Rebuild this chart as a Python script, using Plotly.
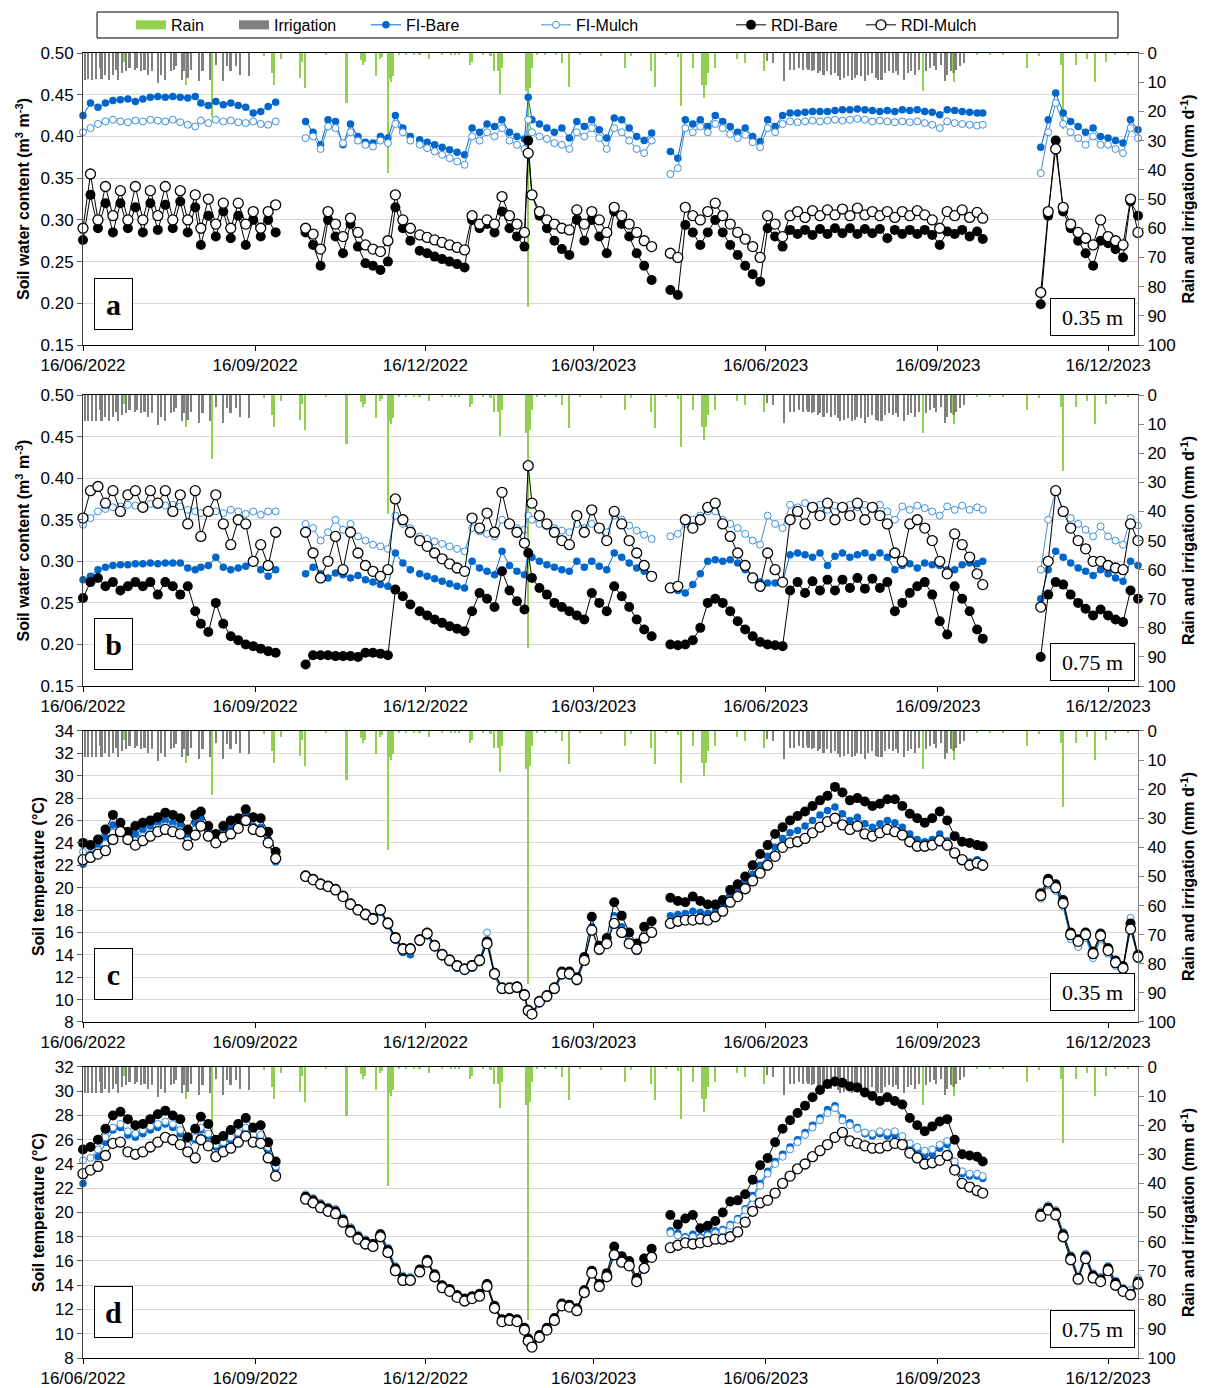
import pandas as pd
import plotly.graph_objects as go
from plotly.subplots import make_subplots

START = "2022-06-16"
X_END = "2024-01-01"
TICK_DATES = ["2022-06-16", "2022-09-16", "2022-12-16", "2023-03-16",
              "2023-06-16", "2023-09-16", "2023-12-16"]
TICK_LABELS = ["16/06/2022", "16/09/2022", "16/12/2022", "16/03/2023",
               "16/06/2023", "16/09/2023", "16/12/2023"]

# measurement days (days after 16/06/2022)
DAYS = ([0, 4, 8, 12, 16, 20, 24, 28, 32, 36, 40, 44, 48, 52, 56, 60, 63, 67, 71, 75, 79, 83, 87, 91, 95, 99, 103]
        + [119, 123, 127, 131, 135, 139, 143, 147, 151, 155, 159, 163, 167, 171, 175]
        + [180, 184, 188, 192, 196, 200, 204, 208, 212, 216, 220, 224, 228, 232, 236, 238, 240, 244, 248, 252,
           256, 260, 264, 268, 272, 276, 280, 284, 288, 292, 296, 300, 304]
        + [314, 318, 322, 326, 330, 334, 338, 342, 346, 350, 354, 358, 362, 366, 370, 374, 378, 382, 386, 390,
           394, 398, 402, 406, 410, 414, 418, 422, 426, 430, 434, 438, 442, 446, 450, 454, 458, 462, 466, 470,
           474, 478, 481]
        + [512, 516, 520, 524, 528, 532, 536, 540, 544, 548, 552, 556, 560, 564])

# ---------------- panel a: soil water content 0.35 m ----------------
A_FI_BARE = ([0.425, 0.440, 0.435, 0.440, 0.443, 0.444, 0.445, 0.442, 0.445, 0.447, 0.448, 0.447, 0.448, 0.447, 0.446, 0.448, 0.440, 0.437, 0.442, 0.438, 0.440, 0.437, 0.435, 0.428, 0.430, 0.436, 0.441]
             + [0.418, 0.405, 0.390, 0.420, 0.418, 0.390, 0.415, 0.400, 0.393, 0.392, 0.400, 0.398, 0.425, 0.410, 0.400]
             + [0.396, 0.393, 0.390, 0.387, 0.384, 0.381, 0.378, 0.410, 0.405, 0.415, 0.412, 0.420, 0.405, 0.400, 0.397, 0.447, 0.420, 0.415, 0.410, 0.405, 0.410, 0.398, 0.418, 0.412, 0.420, 0.408, 0.398, 0.422, 0.420, 0.410, 0.400, 0.395, 0.404]
             + [0.382, 0.374, 0.420, 0.415, 0.420, 0.412, 0.425, 0.418, 0.412, 0.405, 0.410, 0.400, 0.394, 0.420, 0.412, 0.425, 0.428, 0.428, 0.429, 0.430, 0.430, 0.430, 0.431, 0.432, 0.432, 0.433, 0.432, 0.431, 0.430, 0.431, 0.430, 0.432, 0.431, 0.432, 0.430, 0.429, 0.426, 0.432, 0.431, 0.430, 0.429, 0.428, 0.428]
             + [0.387, 0.420, 0.452, 0.428, 0.418, 0.412, 0.405, 0.410, 0.400, 0.398, 0.395, 0.392, 0.420, 0.408])
A_FI_MULCH = ([0.405, 0.410, 0.415, 0.418, 0.420, 0.418, 0.417, 0.419, 0.418, 0.420, 0.419, 0.418, 0.420, 0.417, 0.414, 0.412, 0.419, 0.416, 0.420, 0.418, 0.419, 0.417, 0.416, 0.418, 0.415, 0.414, 0.418]
              + [0.398, 0.400, 0.385, 0.412, 0.410, 0.392, 0.405, 0.395, 0.390, 0.388, 0.395, 0.392, 0.415, 0.405, 0.395]
              + [0.390, 0.386, 0.382, 0.378, 0.374, 0.370, 0.366, 0.400, 0.395, 0.405, 0.400, 0.410, 0.395, 0.390, 0.385, 0.420, 0.405, 0.400, 0.397, 0.392, 0.390, 0.385, 0.405, 0.400, 0.410, 0.398, 0.385, 0.410, 0.405, 0.395, 0.385, 0.380, 0.395]
              + [0.355, 0.362, 0.410, 0.405, 0.412, 0.405, 0.415, 0.410, 0.403, 0.398, 0.402, 0.393, 0.387, 0.410, 0.405, 0.415, 0.418, 0.417, 0.418, 0.419, 0.418, 0.419, 0.420, 0.419, 0.420, 0.421, 0.420, 0.418, 0.419, 0.418, 0.417, 0.418, 0.417, 0.418, 0.416, 0.414, 0.410, 0.418, 0.416, 0.415, 0.414, 0.413, 0.414]
              + [0.356, 0.405, 0.440, 0.415, 0.405, 0.398, 0.390, 0.400, 0.390, 0.390, 0.385, 0.380, 0.410, 0.398])
A_RDI_BARE = ([0.276, 0.330, 0.290, 0.320, 0.285, 0.320, 0.290, 0.315, 0.285, 0.320, 0.288, 0.318, 0.290, 0.322, 0.285, 0.315, 0.270, 0.305, 0.280, 0.310, 0.278, 0.305, 0.270, 0.300, 0.280, 0.300, 0.285]
              + [0.285, 0.270, 0.245, 0.300, 0.280, 0.260, 0.295, 0.268, 0.248, 0.245, 0.240, 0.250, 0.315, 0.290, 0.275]
              + [0.263, 0.260, 0.256, 0.253, 0.250, 0.247, 0.243, 0.300, 0.290, 0.295, 0.285, 0.310, 0.290, 0.280, 0.268, 0.395, 0.330, 0.305, 0.290, 0.275, 0.265, 0.258, 0.300, 0.275, 0.300, 0.280, 0.260, 0.310, 0.295, 0.280, 0.260, 0.245, 0.228]
              + [0.216, 0.210, 0.294, 0.285, 0.270, 0.285, 0.300, 0.285, 0.270, 0.258, 0.245, 0.235, 0.226, 0.290, 0.280, 0.268, 0.288, 0.283, 0.288, 0.282, 0.289, 0.283, 0.290, 0.284, 0.290, 0.283, 0.289, 0.284, 0.289, 0.278, 0.288, 0.283, 0.288, 0.283, 0.288, 0.282, 0.270, 0.286, 0.283, 0.288, 0.280, 0.286, 0.277]
              + [0.199, 0.305, 0.395, 0.310, 0.290, 0.275, 0.260, 0.245, 0.275, 0.272, 0.265, 0.255, 0.322, 0.305])
A_RDI_MULCH = ([0.290, 0.355, 0.300, 0.340, 0.305, 0.335, 0.300, 0.340, 0.300, 0.335, 0.305, 0.340, 0.300, 0.335, 0.300, 0.330, 0.290, 0.325, 0.295, 0.320, 0.290, 0.320, 0.295, 0.310, 0.290, 0.310, 0.318]
               + [0.290, 0.283, 0.265, 0.310, 0.295, 0.280, 0.302, 0.285, 0.270, 0.265, 0.262, 0.275, 0.330, 0.300, 0.290]
               + [0.282, 0.279, 0.276, 0.273, 0.270, 0.267, 0.264, 0.305, 0.295, 0.300, 0.295, 0.328, 0.305, 0.295, 0.285, 0.380, 0.330, 0.310, 0.300, 0.295, 0.290, 0.288, 0.312, 0.295, 0.310, 0.300, 0.285, 0.315, 0.305, 0.295, 0.285, 0.275, 0.268]
               + [0.260, 0.255, 0.315, 0.305, 0.300, 0.310, 0.320, 0.305, 0.295, 0.285, 0.277, 0.268, 0.255, 0.305, 0.295, 0.280, 0.305, 0.310, 0.303, 0.311, 0.305, 0.312, 0.306, 0.313, 0.305, 0.314, 0.306, 0.310, 0.305, 0.310, 0.303, 0.310, 0.305, 0.311, 0.306, 0.300, 0.290, 0.310, 0.305, 0.312, 0.303, 0.309, 0.302]
               + [0.213, 0.310, 0.385, 0.315, 0.295, 0.285, 0.278, 0.270, 0.300, 0.280, 0.275, 0.270, 0.325, 0.285])

# ---------------- panel b: soil water content 0.75 m ----------------
B_FI_BARE = ([0.278, 0.282, 0.290, 0.293, 0.295, 0.296, 0.296, 0.297, 0.297, 0.298, 0.297, 0.298, 0.298, 0.298, 0.292, 0.290, 0.293, 0.295, 0.305, 0.293, 0.290, 0.292, 0.294, 0.298, 0.290, 0.282, 0.290]
             + [0.285, 0.293, 0.285, 0.280, 0.286, 0.284, 0.280, 0.283, 0.278, 0.275, 0.272, 0.270, 0.310, 0.298, 0.290]
             + [0.285, 0.282, 0.279, 0.276, 0.273, 0.270, 0.268, 0.300, 0.292, 0.288, 0.284, 0.312, 0.295, 0.288, 0.284, 0.310, 0.305, 0.300, 0.296, 0.293, 0.290, 0.288, 0.300, 0.293, 0.300, 0.294, 0.290, 0.310, 0.305, 0.298, 0.292, 0.288, 0.283]
             + [0.270, 0.265, 0.262, 0.272, 0.285, 0.300, 0.302, 0.300, 0.302, 0.298, 0.290, 0.282, 0.275, 0.274, 0.274, 0.275, 0.308, 0.310, 0.308, 0.305, 0.310, 0.295, 0.306, 0.310, 0.305, 0.308, 0.310, 0.305, 0.310, 0.305, 0.290, 0.295, 0.297, 0.292, 0.298, 0.296, 0.295, 0.290, 0.290, 0.296, 0.298, 0.297, 0.300]
             + [0.255, 0.290, 0.312, 0.305, 0.298, 0.292, 0.288, 0.283, 0.290, 0.285, 0.280, 0.276, 0.300, 0.295])
B_FI_MULCH = ([0.344, 0.352, 0.360, 0.363, 0.365, 0.366, 0.368, 0.367, 0.368, 0.369, 0.368, 0.367, 0.368, 0.366, 0.362, 0.360, 0.358, 0.362, 0.360, 0.358, 0.362, 0.360, 0.357, 0.360, 0.356, 0.360, 0.360]
              + [0.345, 0.340, 0.325, 0.335, 0.350, 0.338, 0.345, 0.330, 0.325, 0.320, 0.318, 0.315, 0.355, 0.345, 0.340]
              + [0.330, 0.327, 0.324, 0.321, 0.318, 0.315, 0.312, 0.340, 0.336, 0.333, 0.330, 0.350, 0.345, 0.340, 0.338, 0.355, 0.350, 0.345, 0.342, 0.340, 0.337, 0.335, 0.345, 0.340, 0.345, 0.340, 0.335, 0.355, 0.350, 0.343, 0.337, 0.332, 0.327]
              + [0.330, 0.333, 0.345, 0.350, 0.355, 0.360, 0.360, 0.350, 0.345, 0.340, 0.333, 0.325, 0.320, 0.355, 0.345, 0.340, 0.368, 0.365, 0.370, 0.365, 0.368, 0.362, 0.367, 0.364, 0.368, 0.365, 0.368, 0.365, 0.368, 0.360, 0.350, 0.366, 0.362, 0.367, 0.364, 0.360, 0.355, 0.366, 0.362, 0.367, 0.362, 0.365, 0.362]
              + [0.290, 0.350, 0.385, 0.362, 0.352, 0.345, 0.338, 0.330, 0.342, 0.330, 0.325, 0.320, 0.352, 0.343])
B_RDI_BARE = ([0.256, 0.275, 0.280, 0.270, 0.275, 0.265, 0.270, 0.275, 0.270, 0.275, 0.260, 0.275, 0.270, 0.260, 0.270, 0.240, 0.225, 0.215, 0.250, 0.225, 0.210, 0.205, 0.200, 0.198, 0.195, 0.192, 0.190]
              + [0.176, 0.187, 0.187, 0.187, 0.186, 0.186, 0.186, 0.185, 0.190, 0.190, 0.189, 0.187, 0.266, 0.258, 0.248]
              + [0.240, 0.235, 0.230, 0.226, 0.222, 0.219, 0.216, 0.240, 0.262, 0.255, 0.245, 0.288, 0.265, 0.252, 0.242, 0.310, 0.280, 0.268, 0.260, 0.250, 0.245, 0.240, 0.235, 0.230, 0.262, 0.250, 0.240, 0.270, 0.258, 0.245, 0.230, 0.218, 0.210]
              + [0.200, 0.199, 0.200, 0.205, 0.220, 0.250, 0.255, 0.250, 0.240, 0.228, 0.218, 0.210, 0.203, 0.200, 0.199, 0.198, 0.265, 0.275, 0.262, 0.276, 0.265, 0.278, 0.265, 0.278, 0.268, 0.280, 0.267, 0.279, 0.268, 0.275, 0.240, 0.250, 0.262, 0.270, 0.275, 0.260, 0.228, 0.212, 0.270, 0.255, 0.240, 0.218, 0.207]
              + [0.185, 0.260, 0.275, 0.272, 0.260, 0.250, 0.243, 0.235, 0.242, 0.235, 0.230, 0.227, 0.265, 0.255])
B_RDI_MULCH = ([0.352, 0.385, 0.390, 0.370, 0.385, 0.360, 0.380, 0.385, 0.365, 0.385, 0.370, 0.385, 0.360, 0.380, 0.345, 0.385, 0.330, 0.360, 0.380, 0.345, 0.320, 0.350, 0.345, 0.300, 0.320, 0.295, 0.335]
               + [0.335, 0.310, 0.280, 0.300, 0.330, 0.290, 0.335, 0.310, 0.295, 0.288, 0.282, 0.290, 0.375, 0.350, 0.335]
               + [0.325, 0.318, 0.310, 0.303, 0.297, 0.292, 0.288, 0.352, 0.340, 0.358, 0.335, 0.383, 0.345, 0.335, 0.322, 0.415, 0.370, 0.355, 0.345, 0.335, 0.325, 0.320, 0.355, 0.335, 0.362, 0.340, 0.325, 0.360, 0.345, 0.325, 0.310, 0.295, 0.282]
               + [0.268, 0.270, 0.350, 0.340, 0.350, 0.365, 0.370, 0.345, 0.330, 0.310, 0.295, 0.280, 0.270, 0.310, 0.290, 0.275, 0.350, 0.360, 0.345, 0.365, 0.355, 0.370, 0.350, 0.365, 0.355, 0.370, 0.350, 0.365, 0.355, 0.345, 0.310, 0.300, 0.345, 0.350, 0.340, 0.325, 0.300, 0.285, 0.333, 0.320, 0.305, 0.285, 0.272]
               + [0.245, 0.300, 0.385, 0.360, 0.340, 0.325, 0.315, 0.300, 0.300, 0.295, 0.292, 0.290, 0.345, 0.325])

# ---------------- panel c: soil temperature 0.35 m ----------------
C_FI_BARE = ([22.1, 23.0, 23.6, 24.5, 25.6, 25.3, 24.7, 24.8, 25.2, 25.5, 25.8, 26.0, 25.8, 25.6, 24.6, 25.8, 26.2, 25.1, 24.4, 25.0, 25.4, 25.8, 26.5, 25.5, 25.4, 24.3, 22.3]
             + [20.9, 20.6, 20.2, 20.0, 19.7, 19.1, 18.4, 17.9, 17.4, 17.0, 17.8, 16.6, 15.3, 14.2, 14.0]
             + [15.1, 15.7, 14.6, 13.8, 13.3, 12.8, 12.5, 12.8, 13.3, 15.0, 12.1, 10.8, 10.8, 10.9, 10.2, 8.9, 8.6, 9.6, 10.1, 10.8, 12.1, 12.1, 11.6, 13.4, 16.5, 14.3, 14.9, 17.5, 16.5, 15.2, 14.3, 15.6, 16.2]
             + [17.5, 17.6, 17.7, 17.9, 17.8, 17.7, 17.9, 18.4, 19.2, 19.7, 20.4, 21.2, 22.0, 22.8, 23.6, 24.4, 24.9, 25.1, 25.5, 26.0, 26.5, 26.9, 27.2, 26.6, 26.0, 26.3, 25.7, 25.4, 25.7, 26.0, 25.8, 25.4, 24.8, 24.3, 24.1, 24.3, 24.8, 24.2, 23.0, 22.5, 22.3, 22.5, 22.2]
             + [19.2, 20.3, 19.8, 18.4, 15.5, 14.8, 15.6, 13.8, 15.5, 14.2, 13.1, 12.6, 17.2, 13.7])
C_FI_MULCH = ([23.2, 22.9, 23.3, 23.9, 24.9, 25.0, 24.4, 24.2, 24.6, 24.9, 25.3, 25.5, 25.3, 25.1, 24.2, 25.2, 25.7, 24.8, 24.1, 24.6, 24.9, 25.4, 26.1, 25.1, 25.0, 24.0, 22.4]
              + [21.0, 20.7, 20.3, 20.1, 19.8, 19.2, 18.5, 18.0, 17.5, 17.1, 17.9, 16.7, 15.4, 14.4, 14.3]
              + [15.2, 15.8, 14.7, 13.9, 13.4, 12.9, 12.6, 12.9, 13.4, 16.0, 12.2, 10.9, 10.9, 11.0, 10.3, 8.9, 8.6, 9.7, 10.2, 10.9, 12.2, 12.2, 11.7, 13.4, 16.3, 14.4, 14.9, 17.2, 16.2, 15.1, 14.4, 15.5, 16.1]
              + [17.0, 17.2, 17.3, 17.3, 17.3, 17.2, 17.5, 18.0, 18.8, 19.3, 20.0, 20.7, 21.4, 22.1, 22.9, 23.6, 24.0, 24.2, 24.5, 25.0, 25.5, 25.9, 26.2, 25.5, 25.1, 25.3, 24.7, 24.5, 24.8, 25.1, 24.9, 24.6, 24.0, 23.6, 23.6, 23.7, 24.0, 23.6, 22.9, 22.3, 21.9, 22.0, 21.9]
              + [19.0, 20.2, 19.7, 18.3, 15.4, 14.7, 15.5, 13.7, 15.4, 14.1, 13.0, 12.5, 17.3, 13.6])
C_RDI_BARE = ([24.0, 23.8, 24.3, 25.2, 26.5, 25.8, 25.0, 25.5, 25.8, 26.0, 26.3, 26.7, 26.5, 26.2, 25.2, 26.5, 26.8, 25.5, 24.8, 25.5, 26.0, 26.2, 27.0, 26.3, 26.2, 25.0, 23.2]
              + [21.1, 20.8, 20.4, 20.2, 19.9, 19.3, 18.6, 18.1, 17.7, 17.3, 18.1, 16.9, 15.6, 14.6, 14.6]
              + [15.4, 16.0, 14.9, 14.1, 13.6, 13.1, 12.8, 13.1, 13.6, 15.2, 12.4, 11.1, 11.1, 11.2, 10.5, 9.1, 8.8, 9.9, 10.4, 11.1, 12.5, 12.5, 12.0, 13.8, 17.4, 14.8, 15.5, 18.7, 17.5, 16.0, 15.0, 16.5, 17.0]
              + [19.1, 18.8, 18.7, 19.2, 18.8, 18.5, 18.5, 18.9, 19.8, 20.3, 21.0, 22.0, 23.0, 23.8, 24.8, 25.4, 26.0, 26.4, 26.8, 27.3, 27.8, 28.2, 29.0, 28.5, 27.8, 28.0, 27.7, 27.3, 27.5, 27.9, 27.9, 27.3, 26.6, 26.2, 25.8, 26.2, 26.8, 26.0, 24.6, 24.1, 24.0, 23.8, 23.7]
              + [19.5, 20.8, 20.3, 18.9, 16.0, 15.4, 16.0, 14.3, 15.9, 14.6, 13.5, 13.0, 16.8, 14.0])
C_RDI_MULCH = ([22.5, 22.7, 23.0, 23.3, 24.3, 25.0, 24.3, 23.8, 24.2, 24.6, 25.0, 25.2, 25.0, 24.8, 23.8, 24.7, 25.5, 24.6, 24.0, 24.5, 24.8, 25.3, 26.0, 25.2, 25.0, 24.0, 22.6]
               + [21.0, 20.7, 20.3, 20.1, 19.8, 19.2, 18.5, 18.0, 17.6, 17.2, 18.0, 16.8, 15.5, 14.5, 14.5]
               + [15.3, 15.9, 14.8, 14.0, 13.5, 13.0, 12.7, 13.0, 13.5, 15.0, 12.3, 11.0, 11.0, 11.1, 10.4, 9.0, 8.7, 9.8, 10.3, 11.0, 12.3, 12.3, 11.8, 13.5, 16.2, 14.5, 15.0, 16.8, 16.0, 15.0, 14.5, 15.5, 16.0]
               + [16.8, 17.0, 17.1, 17.1, 17.2, 17.1, 17.4, 17.9, 18.7, 19.2, 19.9, 20.6, 21.3, 22.0, 22.8, 23.6, 24.0, 24.1, 24.4, 24.9, 25.4, 25.9, 26.2, 25.6, 25.2, 25.5, 24.8, 24.6, 24.9, 25.2, 25.0, 24.7, 24.1, 23.7, 23.7, 23.8, 24.2, 23.8, 23.1, 22.5, 22.0, 22.2, 22.0]
               + [19.3, 20.5, 20.0, 18.6, 15.8, 15.2, 15.8, 14.1, 15.7, 14.4, 13.3, 12.8, 16.3, 13.8])

# ---------------- panel d: soil temperature 0.75 m ----------------
D_FI_BARE = ([22.4, 23.5, 24.6, 25.8, 26.8, 27.0, 26.4, 26.2, 26.5, 26.8, 27.0, 27.3, 27.0, 26.5, 25.2, 26.0, 26.8, 26.3, 25.4, 25.6, 26.0, 26.4, 26.9, 26.2, 26.3, 25.2, 23.6]
             + [21.4, 21.1, 20.7, 20.4, 20.2, 19.5, 18.7, 18.1, 17.7, 17.5, 18.3, 17.0, 15.5, 14.7, 14.6]
             + [15.3, 16.0, 14.8, 13.9, 13.6, 13.1, 12.8, 13.0, 13.2, 14.0, 12.2, 11.1, 11.2, 11.1, 10.4, 9.5, 9.0, 9.8, 10.4, 11.2, 12.4, 12.3, 12.0, 13.5, 15.0, 14.0, 14.8, 16.7, 16.0, 15.7, 14.4, 15.5, 16.4]
             + [18.5, 18.3, 18.0, 18.2, 18.0, 18.3, 18.5, 18.6, 19.0, 19.5, 20.3, 21.4, 22.4, 23.4, 24.2, 24.8, 25.4, 26.0, 26.6, 27.2, 27.8, 28.5, 28.8, 27.8, 27.4, 27.0, 26.5, 26.3, 26.5, 26.3, 26.4, 26.0, 25.4, 25.0, 24.7, 24.8, 25.3, 25.6, 24.0, 23.2, 23.0, 23.0, 22.8]
             + [20.0, 20.5, 20.1, 18.3, 16.4, 14.7, 16.5, 14.9, 14.6, 15.5, 14.3, 13.7, 13.5, 14.5])
D_FI_MULCH = ([24.3, 24.5, 25.2, 26.2, 27.0, 27.3, 26.7, 26.5, 26.8, 27.1, 27.3, 27.5, 27.3, 26.8, 25.5, 26.2, 27.0, 26.5, 25.6, 25.8, 26.2, 26.6, 27.0, 26.4, 26.4, 25.4, 23.8]
              + [21.5, 21.2, 20.8, 20.5, 20.3, 19.6, 18.8, 18.2, 17.8, 17.5, 18.3, 17.1, 15.6, 14.8, 14.7]
              + [15.4, 16.1, 14.9, 14.0, 13.7, 13.2, 12.9, 13.1, 13.3, 14.2, 12.3, 11.2, 11.3, 11.2, 10.5, 9.6, 9.1, 9.9, 10.5, 11.3, 12.5, 12.4, 12.1, 13.6, 15.1, 14.1, 14.9, 16.8, 16.1, 15.8, 14.5, 15.6, 16.5]
              + [18.3, 18.1, 17.9, 18.0, 17.9, 18.1, 18.3, 18.5, 18.9, 19.4, 20.2, 21.2, 22.2, 23.2, 24.0, 24.6, 25.2, 25.8, 26.4, 27.0, 27.6, 28.2, 28.6, 27.6, 27.2, 26.9, 26.6, 26.5, 26.7, 26.6, 26.7, 26.3, 25.7, 25.4, 25.1, 25.2, 25.6, 25.9, 24.2, 23.4, 23.2, 23.2, 23.0]
              + [20.1, 20.6, 20.2, 18.4, 16.5, 14.8, 16.6, 15.0, 14.7, 15.6, 14.4, 13.8, 13.6, 14.6])
D_RDI_BARE = ([25.2, 25.4, 26.0, 26.9, 28.0, 28.3, 27.7, 27.2, 27.3, 27.7, 28.1, 28.4, 28.0, 27.7, 26.2, 26.9, 27.9, 27.3, 26.0, 26.3, 26.8, 27.3, 27.8, 27.0, 27.2, 25.8, 24.2]
              + [21.3, 21.0, 20.6, 20.3, 20.1, 19.4, 18.6, 18.0, 17.6, 17.4, 18.2, 16.9, 15.4, 14.6, 14.5]
              + [15.3, 16.1, 14.9, 14.0, 13.7, 13.2, 12.9, 13.1, 13.3, 14.1, 12.3, 11.2, 11.3, 11.2, 10.5, 9.6, 9.1, 9.9, 10.5, 11.3, 12.5, 12.4, 12.1, 13.6, 15.2, 14.1, 15.0, 17.2, 16.4, 16.0, 14.6, 16.2, 17.0]
              + [19.8, 19.0, 19.5, 19.8, 18.7, 18.9, 19.3, 20.0, 20.9, 21.0, 21.5, 22.7, 23.9, 24.5, 25.8, 26.9, 27.6, 28.2, 28.8, 29.5, 30.1, 30.6, 30.8, 30.7, 30.4, 30.3, 29.9, 29.6, 29.2, 29.5, 29.2, 28.9, 27.8, 27.2, 26.7, 27.1, 27.5, 27.7, 26.0, 24.8, 24.7, 24.6, 24.2]
              + [19.9, 20.4, 20.0, 18.2, 16.3, 14.6, 16.4, 14.8, 14.5, 15.4, 14.2, 13.6, 13.3, 14.3])
D_RDI_MULCH = ([23.2, 23.5, 23.8, 24.7, 25.7, 25.8, 25.0, 24.8, 25.0, 25.4, 25.8, 26.2, 26.0, 25.6, 25.0, 24.5, 26.0, 25.5, 24.6, 25.0, 25.3, 25.8, 26.3, 25.8, 25.7, 24.5, 23.0]
               + [21.1, 20.8, 20.4, 20.1, 19.9, 19.2, 18.4, 17.8, 17.4, 17.2, 18.0, 16.7, 15.2, 14.4, 14.4]
               + [15.1, 15.9, 14.7, 13.8, 13.5, 13.0, 12.7, 12.9, 13.1, 13.9, 12.1, 11.0, 11.1, 11.0, 10.3, 9.4, 8.9, 9.7, 10.3, 11.1, 12.3, 12.2, 11.9, 13.4, 15.0, 13.9, 14.7, 16.5, 15.9, 15.6, 14.3, 15.4, 16.3]
               + [17.1, 17.3, 17.5, 17.4, 17.5, 17.6, 17.8, 17.8, 18.0, 18.4, 19.2, 20.1, 20.8, 21.0, 21.6, 22.4, 23.0, 23.6, 24.0, 24.6, 25.1, 25.6, 26.2, 26.6, 25.9, 25.7, 25.5, 25.3, 25.3, 25.5, 25.7, 25.6, 24.9, 24.5, 24.0, 24.1, 24.3, 24.7, 23.5, 22.4, 22.1, 21.8, 21.6]
               + [19.7, 20.2, 19.8, 18.0, 16.1, 14.5, 16.2, 14.6, 14.3, 15.2, 14.0, 13.5, 13.2, 14.1])

# ---------------- rain and irrigation (mm/day) ----------------
RAIN_DAY = [22, 55, 56, 69, 97, 101, 102, 106, 116, 117, 119, 130, 141, 149, 150, 151, 157, 159, 160, 163,
            164, 165, 166, 169, 173, 177, 180, 185, 192, 197, 199, 201, 207, 208, 214, 218, 220, 222, 223, 224,
            237, 238, 239, 240, 243, 247, 253, 256, 260, 266, 277, 290, 293, 304, 306, 312, 318, 320, 326, 331,
            332, 333, 334, 338, 350, 354, 364, 449, 465, 466, 478, 485, 492, 505, 511, 523, 524, 531, 537, 541,
            547, 552, 559]
RAIN_MM = [3, 11, 2, 22, 1, 7, 11, 2, 8.5, 3, 12, 0.8, 17, 2.5, 4, 3, 8, 2, 1.5, 41,
           9, 10, 8, 0.8, 0.8, 0.5, 0.5, 2, 0.5, 0.5, 0.8, 0.5, 4, 3, 0.5, 1, 6, 6, 14, 5,
           13, 87, 12, 5, 0.5, 0.8, 0.5, 3.5, 11.5, 0.5, 1, 5, 1, 6, 11.5, 0.5, 1.5, 18, 5, 11,
           15.5, 11, 7, 5, 2, 3.5, 6, 13, 7, 10, 0.5, 0.5, 0.5, 5, 1, 4, 26, 4, 2, 10,
           3, 0.8, 0.5]
IRR_DAY = [1, 3, 5, 7, 9, 10, 12, 14, 16, 18, 19, 21, 23, 25, 28, 29, 31, 33, 35, 37,
           40, 42, 44, 47, 49, 50, 53, 54, 56, 58, 62, 64, 68, 71, 75, 77, 79, 82, 84, 89,
           366, 369, 375, 378, 380, 383, 385, 387, 388, 390, 391, 393, 394, 396, 398, 400, 402, 404, 405, 407,
           409, 411, 413, 414, 416, 418, 420, 422, 424, 425, 427, 429, 431, 433, 435, 436, 439, 441, 443, 445,
           447, 451, 453, 455, 456, 459, 461, 462, 464, 466, 467, 469, 471]
IRR_MM = [9.1, 9.0, 9.1, 9.0, 5.1, 9.0, 7.4, 9.1, 7.4, 5.7, 9.1, 6.9, 6.3, 5.1, 5.7, 5.1, 6.3, 5.7, 7.4, 6.3,
          10.3, 7.4, 9.1, 6.3, 5.7, 4.6, 9.1, 6.3, 8.6, 5.7, 9.7, 6.3, 9.1, 4.0, 9.7, 4.6, 6.3, 4.6, 7.4, 8.0,
          2.9, 3.4, 9.7, 5.7, 5.7, 5.1, 5.7, 5.1, 5.7, 6.3, 5.7, 6.9, 6.3, 7.4, 6.3, 7.4, 6.9, 8.0, 9.1, 8.6,
          8.0, 9.1, 8.6, 7.4, 8.0, 9.7, 7.4, 6.9, 8.6, 9.1, 9.1, 6.9, 6.3, 6.9, 6.3, 7.4, 9.1, 6.9, 6.3, 7.4,
          5.7, 6.3, 5.1, 4.6, 5.7, 4.0, 9.7, 7.4, 6.3, 6.9, 5.7, 4.6, 3.4]

for arr in [A_FI_BARE, A_FI_MULCH, A_RDI_BARE, A_RDI_MULCH, B_FI_BARE, B_FI_MULCH, B_RDI_BARE, B_RDI_MULCH,
            C_FI_BARE, C_FI_MULCH, C_RDI_BARE, C_RDI_MULCH, D_FI_BARE, D_FI_MULCH, D_RDI_BARE, D_RDI_MULCH]:
    assert len(arr) == len(DAYS), len(arr)
assert len(RAIN_DAY) == len(RAIN_MM) and len(IRR_DAY) == len(IRR_MM)

# ---------------- figure ----------------
BASE = pd.Timestamp(START)
SANS = "Liberation Sans, Arial, sans-serif"
SERIF = "Liberation Serif, Times New Roman, serif"
RAIN_COLOR = "#92D050"
IRR_COLOR = "#808080"


def to_date(d):
    return BASE + pd.Timedelta(days=float(d))


def with_gaps(days, vals):
    xs, ys, prev = [], [], None
    for d, v in zip(days, vals):
        if prev is not None and d - prev > 4.5:
            xs.append(to_date((d + prev) / 2))
            ys.append(None)
        xs.append(to_date(d))
        ys.append(v)
        prev = d
    return xs, ys


PANELS = [(A_FI_BARE, A_FI_MULCH, A_RDI_BARE, A_RDI_MULCH),
          (B_FI_BARE, B_FI_MULCH, B_RDI_BARE, B_RDI_MULCH),
          (C_FI_BARE, C_FI_MULCH, C_RDI_BARE, C_RDI_MULCH),
          (D_FI_BARE, D_FI_MULCH, D_RDI_BARE, D_RDI_MULCH)]
NAMES = ["FI-Bare", "FI-Mulch", "RDI-Bare", "RDI-Mulch"]
STYLES = [
    dict(line=dict(color="#0066CC", width=1),
         marker=dict(symbol="circle", size=7.5, color="#0066CC")),
    dict(line=dict(color="#3D8FD9", width=1),
         marker=dict(symbol="circle", size=7, color="white", line=dict(color="#3D8FD9", width=1))),
    dict(line=dict(color="black", width=1),
         marker=dict(symbol="circle", size=10, color="black")),
    dict(line=dict(color="black", width=1),
         marker=dict(symbol="circle", size=10, color="white", line=dict(color="black", width=1.3))),
]
Y_RANGES = [[0.15, 0.50], [0.15, 0.50], [8, 34], [8, 32]]
Y_DTICK = [0.05, 0.05, 2, 2]
Y_FMT = [".2f", ".2f", "d", "d"]
Y_TITLES = ["<b>Soil water content (m<sup>3</sup> m<sup>-3</sup>)</b>"] * 2 + ["<b>Soil temperature (°C)</b>"] * 2
DOMAINS = [[0.7762, 1.0], [0.5149, 0.7379], [0.2575, 0.4805], [0.0, 0.2230]]
LETTERS = ["a", "b", "c", "d"]
DEPTHS = ["0.35 m", "0.75 m", "0.35 m", "0.75 m"]
LETTER_Y = [0.140, 0.144, 0.165, 0.158]
DEPTH_Y = [0.096, 0.082, 0.103, 0.100]

# legend entry x positions (paper fraction) – one legend per entry
LEGEND_X = [0.0455, 0.1431, 0.2682, 0.4294, 0.6142, 0.7374]
LEGEND_KEYS = ["legend", "legend2", "legend3", "legend4", "legend5", "legend6"]

fig = make_subplots(rows=4, cols=1, specs=[[{"secondary_y": True}] for _ in range(4)])

rain_x = [to_date(d) for d in RAIN_DAY]
irr_x = [to_date(d) for d in IRR_DAY]
BAR_W = 0.85 * 86400000

# legend-only entries for the bars (drawn as wide rectangles like the original)
fig.add_trace(go.Scatter(x=[None], y=[None], mode="lines", name="Rain",
                         line=dict(color=RAIN_COLOR, width=9), legend=LEGEND_KEYS[0]),
              row=1, col=1, secondary_y=False)
fig.add_trace(go.Scatter(x=[None], y=[None], mode="lines", name="Irrigation",
                         line=dict(color=IRR_COLOR, width=9), legend=LEGEND_KEYS[1]),
              row=1, col=1, secondary_y=False)

# bars live on the base (right-hand) axis, soil data on the overlaying (left-hand) axis so
# the markers are drawn above the bars
for i, series in enumerate(PANELS):
    row = i + 1
    show = i == 0
    fig.add_trace(go.Bar(x=rain_x, y=RAIN_MM, name="Rain", marker=dict(color=RAIN_COLOR, line=dict(width=0)),
                         width=BAR_W, showlegend=False), row=row, col=1, secondary_y=False)
    fig.add_trace(go.Bar(x=irr_x, y=IRR_MM, name="Irrigation", marker=dict(color=IRR_COLOR, line=dict(width=0)),
                         width=BAR_W, showlegend=False), row=row, col=1, secondary_y=False)
    for k, (name, vals, st) in enumerate(zip(NAMES, series, STYLES)):
        xs, ys = with_gaps(DAYS, vals)
        fig.add_trace(go.Scatter(x=xs, y=ys, name=name, mode="lines+markers", line=st["line"],
                                 marker=st["marker"], showlegend=show, legend=LEGEND_KEYS[k + 2],
                                 connectgaps=False, cliponaxis=False),
                      row=row, col=1, secondary_y=True)

for i in range(4):
    row = i + 1
    xa = "x" if i == 0 else f"x{row}"
    ya = "y" if i == 0 else f"y{2 * i + 1}"
    fig.update_xaxes(type="date", range=[START, X_END], tickvals=TICK_DATES, ticktext=TICK_LABELS,
                     domain=[0, 1], ticks="outside", ticklen=5, tickcolor="black", showline=True,
                     linecolor="black", linewidth=1, mirror=True, showgrid=False, zeroline=False,
                     automargin=False, tickfont=dict(family=SANS, size=17, color="black"), row=row, col=1)
    # soil data axis (left)
    fig.update_yaxes(side="left", range=Y_RANGES[i], dtick=Y_DTICK[i], tickformat=Y_FMT[i], ticks="outside",
                     ticklen=5, tickcolor="#595959", showline=True, linecolor="#404040", linewidth=1,
                     showgrid=True, gridcolor="#D9D9D9", gridwidth=1, zeroline=False, automargin=False,
                     tickfont=dict(family=SANS, size=17, color="black"),
                     title=dict(text=Y_TITLES[i], font=dict(family=SANS, size=16, color="black"), standoff=6),
                     row=row, col=1, secondary_y=True)
    # rain / irrigation axis (right)
    fig.update_yaxes(side="right", range=[100, 0], dtick=10, ticks="outside", ticklen=5, tickcolor="#808080",
                     showline=True, linecolor="#808080", linewidth=1, showgrid=False, zeroline=False,
                     automargin=False, domain=DOMAINS[i], tickfont=dict(family=SANS, size=17, color="black"),
                     title=dict(text="<b>Rain and irrigation (mm d<sup>-1</sup>)</b>",
                                font=dict(family=SANS, size=16, color="black"), standoff=8),
                     row=row, col=1, secondary_y=False)
    fig.add_annotation(xref=f"{xa} domain", yref=f"{ya} domain", x=0.0285, y=LETTER_Y[i],
                       text=f"<b>{LETTERS[i]}</b>", showarrow=False, xanchor="center", yanchor="middle",
                       font=dict(family=SERIF, size=30, color="black"), width=35, height=48,
                       bordercolor="black", borderwidth=1, borderpad=1, bgcolor="white")
    fig.add_annotation(xref=f"{xa} domain", yref=f"{ya} domain", x=0.957, y=DEPTH_Y[i],
                       text=DEPTHS[i], showarrow=False, xanchor="center", yanchor="middle",
                       font=dict(family=SERIF, size=22, color="black"), width=81, height=34,
                       bordercolor="black", borderwidth=1, borderpad=1, bgcolor="white")

legend_layout = {}
for key, lx in zip(LEGEND_KEYS, LEGEND_X):
    legend_layout[key] = dict(orientation="h", x=lx, xanchor="left", y=1.0215, yanchor="middle",
                              borderwidth=0, bgcolor="rgba(0,0,0,0)", itemwidth=30,
                              font=dict(family=SANS, size=16, color="black"))

# legend frame
fig.add_shape(type="rect", xref="paper", yref="paper", x0=0.0133, x1=0.981, y0=1.0115, y1=1.0314,
              line=dict(color="black", width=1), fillcolor="rgba(0,0,0,0)", layer="above")

fig.update_layout(
    width=1210, height=1388, margin=dict(l=83, r=72, t=53, b=30, autoexpand=False),
    paper_bgcolor="white", plot_bgcolor="white", barmode="overlay", bargap=0,
    font=dict(family=SANS, size=16, color="black"),
    **legend_layout,
)

fig.write_html("out.html")
